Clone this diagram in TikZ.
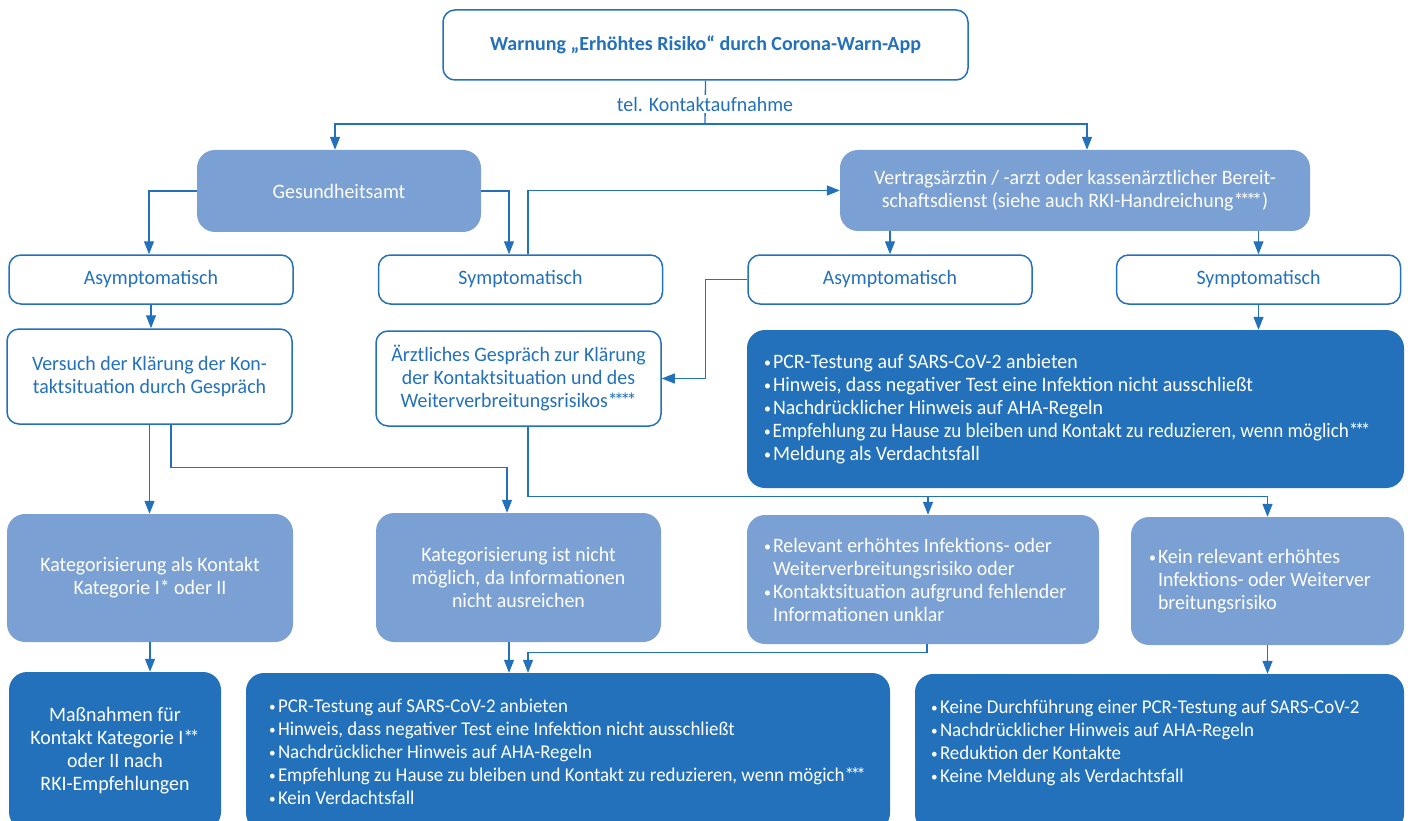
\documentclass[tikz,border=0pt]{standalone}
\usepackage{fontspec}
\setmainfont{Carlito}[FakeStretch=0.97]
\newfontfamily\titlefont{Carlito}
\usetikzlibrary{arrows.meta}
\definecolor{cwablue}{RGB}{35,113,187}
\definecolor{cwalight}{RGB}{123,160,211}
% one line of a list: bullet line and continuation line
\newcommand{\bl}[1]{\mbox{\spaceskip=0pt\xspaceskip=0pt\makebox[9pt][l]{\raisebox{1pt}{\scalebox{0.7}{\textbullet}}}#1}}
\newcommand{\cl}[1]{\mbox{\spaceskip=0pt\xspaceskip=0pt\hspace*{9pt}#1}}
\newcommand{\stars}[1]{{\addfontfeature{LetterSpace=-18}#1}}
\begin{document}
\begin{tikzpicture}[x=1pt, y=-1pt,
    font=\fontsize{20.5}{23}\selectfont,
    wbox/.style={draw=cwablue, line width=1.5pt, fill=white, rounded corners=12pt,
      text=cwablue, align=center, inner sep=0pt},
    lbox/.style={fill=cwalight, rounded corners=18pt, text=white, align=center, inner sep=0pt},
    dbox/.style={fill=cwablue, rounded corners=18pt, text=white, inner sep=0pt},
    conn/.style={draw=cwablue, line width=1.3pt},
    arr/.style={conn, -{Triangle[length=13pt, width=10pt]}}]
  \useasboundingbox (0,0) rectangle (1408,821);
  \clip (0,0) rectangle (1408,821);

  % top
  \node[wbox, minimum width=525pt, minimum height=70pt, font=\titlefont\fontsize{20}{23}\selectfont\bfseries]
    (warn) at (705.5,45) {Warnung „Erhöhtes Risiko“ durch Corona-Warn-App};
  \coordinate (split) at (705,124);
  \draw[conn] (warn.south) -- (split);
  \node[fill=white, text=cwablue, inner sep=2pt] (tel) at (705,104) {tel. Kontaktaufnahme};

  \node[lbox, minimum width=284pt, minimum height=82pt] (gesamt) at (339,191) {Gesundheitsamt};
  \node[lbox, minimum width=470pt, minimum height=81pt] (vertrag) at (1075,190.5)
    {Vertragsärztin / -arzt oder kassenärztlicher Bereit-\\schaftsdienst (siehe auch RKI-Handreichung\stars{****})};

  \foreach \n/\x/\t in {asymL/151/Asymptomatisch, symL/520.5/Symptomatisch,
      asymR/890/Asymptomatisch, symR/1258.5/Symptomatisch}
    \node[wbox, minimum width=284pt, minimum height=49pt] (\n) at (\x,279.5) {\t};

  \node[wbox, minimum width=285pt, minimum height=95pt] (versuch) at (149.5,376.5)
    {Versuch der Klärung der Kon-\\taktsituation durch Gespräch};
  \node[wbox, minimum width=285pt, minimum height=95pt] (aerztl) at (518.5,378.5)
    {Ärztliches Gespräch zur Klärung\\der Kontaktsituation und des\\Weiterverbreitungsrisikos\stars{****}};
  \node[dbox, text width=623pt, inner xsep=17pt, minimum height=158pt, align=left] (pcrA) at (1075.5,409)
    {\bl{PCR-Testung auf SARS-CoV-2 anbieten}\\
     \bl{Hinweis, dass negativer Test eine Infektion nicht ausschließt}\\
     \bl{Nachdrücklicher Hinweis auf AHA-Regeln}\\
     \scalebox{0.96}[1]{\bl{Empfehlung zu Hause zu bleiben und Kontakt zu reduzieren, wenn möglich\stars{***}}}\\
     \bl{Meldung als Verdachtsfall}};

  \node[lbox, minimum width=286pt, minimum height=128pt] (katI) at (150,578)
    {Kategorisierung als Kontakt\\Kategorie I\stars{*} oder II};
  \node[lbox, minimum width=285pt, minimum height=129pt] (katN) at (518.5,577.5)
    {Kategorisierung ist nicht\\möglich, da Informationen\\nicht ausreichen};
  \node[lbox, text width=318pt, inner xsep=17pt, minimum height=129pt, align=left] (relev) at (923,579.5)
    {\bl{Relevant erhöhtes Infektions- oder}\\
     \cl{Weiterverbreitungsrisiko oder}\\
     \bl{Kontaktsituation aufgrund fehlender}\\
     \cl{Informationen unklar}};
  \node[lbox, text width=237pt, inner xsep=18pt, minimum height=128pt, align=left] (keinrel) at (1267.5,581)
    {\bl{Kein relevant erhöhtes}\\
     \cl{Infektions- oder Weiterver}\\
     \cl{breitungsrisiko}};

  % bottom row
  \node[dbox, minimum width=212pt, minimum height=158pt, align=center] (massI) at (115,751)
    {Maßnahmen für\\Kontakt Kategorie I\stars{**}\\oder II nach\\RKI-Empfehlungen};
  \node[dbox, text width=598pt, inner xsep=23pt, minimum height=158pt, align=left,
      font=\fontsize{19.5}{23}\selectfont] (pcrB) at (568,752)
    {\bl{PCR-Testung auf SARS-CoV-2 anbieten}\\
     \bl{Hinweis, dass negativer Test eine Infektion nicht ausschließt}\\
     \bl{Nachdrücklicher Hinweis auf AHA-Regeln}\\
     \bl{Empfehlung zu Hause zu bleiben und Kontakt zu reduzieren, wenn mögich\stars{***}}\\
     \bl{Kein Verdachtsfall}};
  \node[dbox, text width=457pt, inner xsep=16pt, minimum height=158pt, align=left,
      font=\fontsize{19.5}{23}\selectfont] (noPcr) at (1159.5,753)
    {\bl{Keine Durchführung einer PCR-Testung auf SARS-CoV-2}\\
     \bl{Nachdrücklicher Hinweis auf AHA-Regeln}\\
     \bl{Reduktion der Kontakte}\\
     \bl{Keine Meldung als Verdachtsfall}\\ \mbox{}};

  % connectors
  \draw[arr] (split) -| ([xshift=-4pt]gesamt.north);
  \draw[arr] (split) -| ([xshift=12pt]vertrag.north);
  \draw[arr] (gesamt.west) -| ([xshift=-2pt]asymL.north);
  \draw[arr] (gesamt.east) -| ([xshift=-11.5pt]symL.north);
  \draw[arr] ([xshift=7.5pt]symL.north) |- (vertrag.west);
  \draw[arr] (vertrag.south -| asymR) -- (asymR.north);
  \draw[arr] (vertrag.south -| symR) -- (symR.north);
  \draw[arr] (asymR.west) -- ++(-42,0) |- (aerztl.east);
  \draw[arr] (asymL.south) -- (asymL.south |- versuch.north);
  \draw[arr] (symR.south) -- (symR.south |- pcrA.north);
  \draw[arr] (versuch.south) -- (versuch.south |- katI.north);
  \draw[arr] ([xshift=21.5pt]versuch.south) -- ++(0,43) -| ([xshift=-11.5pt]katN.north);
  \draw[arr] ([xshift=9.5pt]aerztl.south) -- ++(0,70) coordinate (fork) -| ([xshift=5pt]relev.north);
  \draw[arr] (fork) -| (keinrel.north);
  \draw[arr] (katI.south) -- (katI.south |- massI.north);
  \draw[arr] ([xshift=-9.5pt]katN.south) -- ([xshift=-9.5pt]katN.south |- pcrB.north);
  \draw[arr] ([xshift=4pt]relev.south) -- ++(0,8) -| ([xshift=-40pt]pcrB.north);
  \draw[arr] (keinrel.south) -- (keinrel.south |- noPcr.north);
\end{tikzpicture}
\end{document}
